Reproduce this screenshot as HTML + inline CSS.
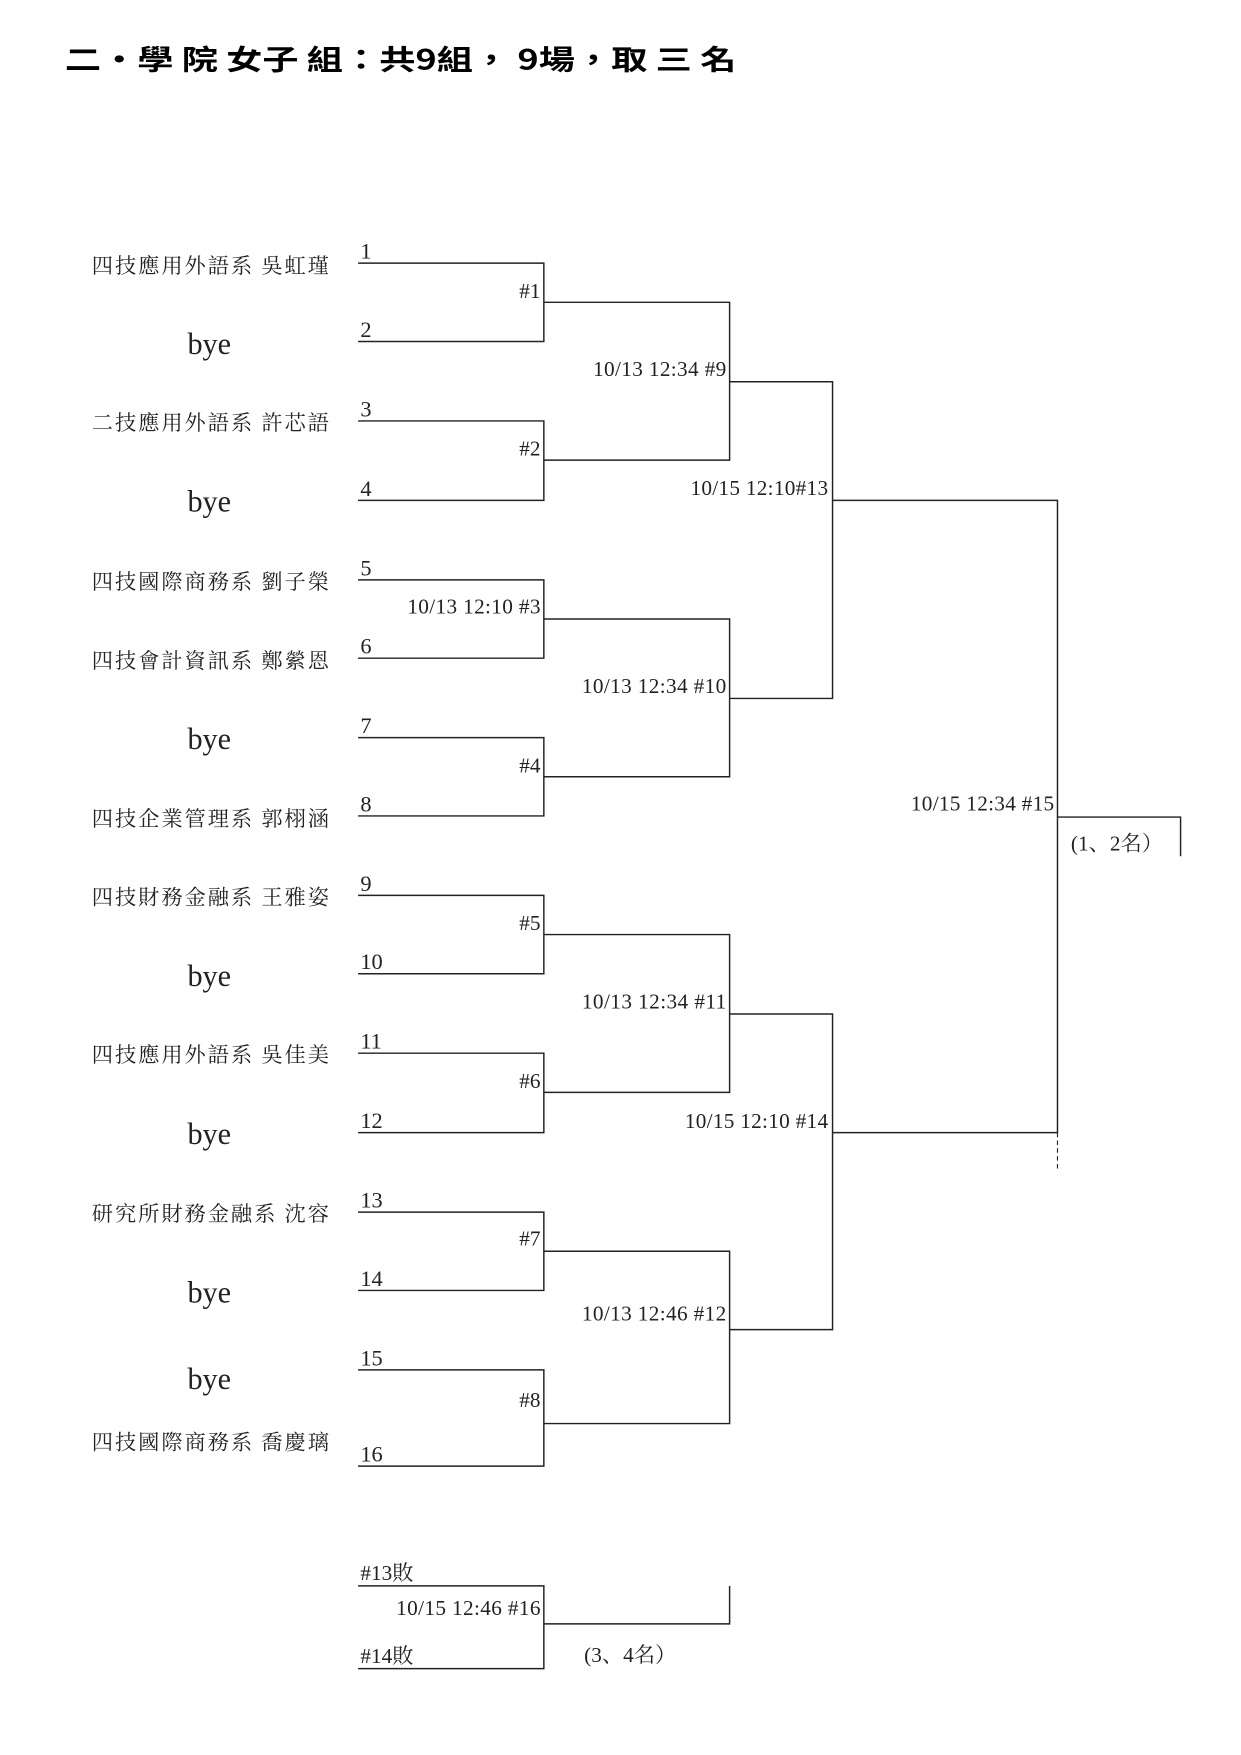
<!DOCTYPE html>
<html><head><meta charset="utf-8">
<style>
html,body{margin:0;padding:0;background:#fff;}
svg{display:block;}
text{font-family:"Liberation Serif","Noto Serif CJK SC","Noto Sans CJK TC",serif;fill:#222;}
.t{font-family:"Noto Sans CJK TC","WenQuanYi Zen Hei",sans-serif;font-weight:bold;fill:#000;}
.nm{font-size:19px;}
.n{font-size:20px;}
.lb{font-size:19px;}
.bye{font-size:27px;}
</style></head>
<body>
<svg width="1241" height="1755" viewBox="0 0 1109 1568" xmlns="http://www.w3.org/2000/svg">
<text class="t" x="58" y="62" font-size="25" textLength="600" lengthAdjust="spacingAndGlyphs">二‧學 院 女子 組：共9組， 9場，取 三 名</text>
<g stroke="#222" stroke-width="1.3" fill="none">
<path d="M320 235H486V305H320M320 376H486V447H320M320 518H486V588H320M320 659H486V729H320M320 800H486V870H320M320 941H486V1012H320M320 1083H486V1153H320M320 1224H486V1310H320"/>
<path d="M486 270H652V411H486M486 553H652V694H486M486 835H652V976H486M486 1118H652V1272H486"/>
<path d="M652 341H744V624H652M652 906H744V1188H652"/>
<path d="M744 447H945V1012H744"/>
<path d="M945 730H1055V765"/>
<path d="M320 1417H486V1491H320M486 1451H652V1417"/>
</g>
<path d="M945 1012V1047" stroke="#222" stroke-width="1" stroke-dasharray="4,3"/>
<g class="n">
<text x="322" y="231">1</text><text x="322" y="301">2</text><text x="322" y="372">3</text><text x="322" y="443">4</text>
<text x="322" y="514">5</text><text x="322" y="584">6</text><text x="322" y="655">7</text><text x="322" y="725">8</text>
<text x="322" y="796">9</text><text x="322" y="866">10</text><text x="322" y="937">11</text><text x="322" y="1008">12</text>
<text x="322" y="1079">13</text><text x="322" y="1149">14</text><text x="322" y="1220">15</text><text x="322" y="1306">16</text>
</g>
<g class="nm">
<text x="82" y="244" textLength="212">四技應用外語系 吳虹瑾</text>
<text x="82" y="384" textLength="212">二技應用外語系 許芯語</text>
<text x="82" y="526" textLength="212">四技國際商務系 劉子榮</text>
<text x="82" y="597" textLength="212">四技會計資訊系 鄭縈恩</text>
<text x="82" y="738" textLength="212">四技企業管理系 郭栩涵</text>
<text x="82" y="808" textLength="212">四技財務金融系 王雅姿</text>
<text x="82" y="949" textLength="212">四技應用外語系 吳佳美</text>
<text x="82" y="1091" textLength="212">研究所財務金融系 沈容</text>
<text x="82" y="1295" textLength="212">四技國際商務系 喬慶璃</text>
</g>
<g class="bye" text-anchor="middle">
<text x="187" y="316">bye</text><text x="187" y="457">bye</text><text x="187" y="669">bye</text>
<text x="187" y="881">bye</text><text x="187" y="1022">bye</text><text x="187" y="1164">bye</text><text x="187" y="1241">bye</text>
</g>
<g class="lb" text-anchor="end">
<text x="483" y="266">#1</text><text x="483" y="407">#2</text>
<text x="483" y="548" textLength="119">10/13 12:10 #3</text>
<text x="483" y="690">#4</text><text x="483" y="831">#5</text><text x="483" y="972">#6</text>
<text x="483" y="1113">#7</text><text x="483" y="1257">#8</text>
<text x="483" y="1443" textLength="129">10/15 12:46 #16</text>
<text x="649" y="336" textLength="119">10/13 12:34 #9</text>
<text x="649" y="619" textLength="129">10/13 12:34 #10</text>
<text x="649" y="901" textLength="129">10/13 12:34 #11</text>
<text x="649" y="1180" textLength="129">10/13 12:46 #12</text>
<text x="740" y="442" textLength="123">10/15 12:10#13</text>
<text x="740" y="1008" textLength="128">10/15 12:10 #14</text>
<text x="942" y="724" textLength="128">10/15 12:34 #15</text>
</g>
<g class="lb">
<text x="957" y="760">(1、2名）</text>
<text x="322" y="1412">#13敗</text>
<text x="322" y="1486">#14敗</text>
<text x="522" y="1485">(3、4名）</text>
</g>
</svg>
</body></html>
